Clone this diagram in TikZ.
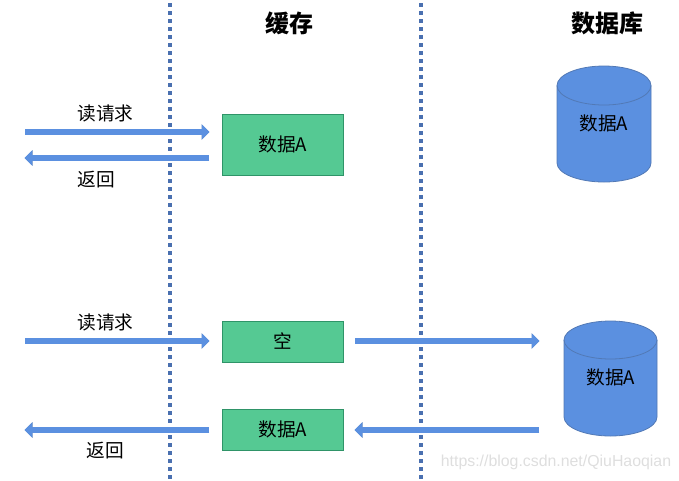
\documentclass[tikz,border=0pt]{standalone}
\usepackage{fontspec}
\setmainfont{Noto Sans CJK SC}
\newfontfamily\urlfont{Liberation Sans}
\usetikzlibrary{arrows.meta}
\definecolor{dotblue}{HTML}{4A70B0}
\definecolor{flowblue}{HTML}{5B90E0}
\definecolor{flowedge}{HTML}{4F7DBE}
\definecolor{cellgreen}{HTML}{55C993}
\definecolor{celledge}{HTML}{2F9468}
\definecolor{drumedge}{HTML}{5279B5}
\tikzset{
  x=0.75pt, y=-0.75pt,
  divider/.style={dotblue, line width=3pt, dash pattern=on 3pt off 3pt},
  flowedgeline/.style={flowedge, line width=5pt,
    -{Triangle[length=6pt,width=11.4pt,flowedge]}},
  flow/.style={flowblue, line width=4.2pt,
    -{Triangle[length=5.5pt,width=10.4pt,flowblue]}},
  cell/.style={draw=celledge, line width=0.7pt, fill=cellgreen, inner sep=0pt, anchor=north west},
  drum/.style={draw=drumedge, line width=0.6pt, fill=flowblue},
  label/.style={font=\fontsize{14pt}{16pt}\selectfont, inner sep=0pt},
  heading/.style={font=\fontsize{18pt}{22pt}\selectfont\bfseries, inner sep=0pt},
}
\begin{document}
\begin{tikzpicture}
\useasboundingbox (0,0) rectangle (679,480);
% column dividers
\coordinate (d1t) at (170,3);  \coordinate (d1b) at (170,479);
\coordinate (d2t) at (421,3);  \coordinate (d2b) at (421,479);
\draw[divider] (d1t) -- (d1b);
\draw[divider] (d2t) -- (d2b);
% column headings
\node[heading] (hcache) at (289,23) {缓存};
\node[heading] (hdb) at (607.5,23) {数据库};
% cache cells
\node[cell, minimum width=121*0.75pt, minimum height=61*0.75pt] (c1) at (222,114) {};
\node[label] (c1t) at (283,144.5) {数据A};
\node[cell, minimum width=121*0.75pt, minimum height=41*0.75pt] (c2) at (222,321) {};
\node[label] (c2t) at (283,341.5) {空};
\node[cell, minimum width=121*0.75pt, minimum height=41*0.75pt] (c3) at (222,409) {};
\node[label] (c3t) at (283,429.5) {数据A};
% database drums
\draw[drum] (557,85.5) -- (557,163) arc[start angle=180,end angle=360,x radius=47,y radius=-19] -- (651,85.5)
  arc[start angle=0,end angle=180,x radius=47,y radius=-19.5] -- cycle;
\draw[drumedge, line width=0.6pt] (557,85.5) arc[start angle=180,end angle=360,x radius=47,y radius=-19.5];
\node[label] (d1) at (604,123) {数据A};
\draw[drum] (564,340) -- (564,417) arc[start angle=180,end angle=360,x radius=46.5,y radius=-19] -- (657,340)
  arc[start angle=0,end angle=180,x radius=46.5,y radius=-19] -- cycle;
\draw[drumedge, line width=0.6pt] (564,340) arc[start angle=180,end angle=360,x radius=46.5,y radius=-19];
\node[label] (d2) at (611,377) {数据A};
% request and reply flows
\coordinate (a1s) at (25,132);  \coordinate (a1e) at (209.5,132);
\coordinate (a2s) at (209,158); \coordinate (a2e) at (24.5,158);
\coordinate (a3s) at (25,341);  \coordinate (a3e) at (209.5,341);
\coordinate (a4s) at (355,341); \coordinate (a4e) at (539.5,341);
\coordinate (a5s) at (539,430); \coordinate (a5e) at (354.5,430);
\coordinate (a6s) at (209,430); \coordinate (a6e) at (24.5,430);
\foreach \s/\e in {a1s/a1e,a2s/a2e,a3s/a3e,a4s/a4e,a5s/a5e,a6s/a6e}{
  \draw[flowedgeline] (\s) -- (\e);
  \draw[flow] (\s) -- (\e);
}
% flow captions
\node[label] (l1) at (105.5,113) {读请求};
\node[label] (l2) at (96,179.5) {返回};
\node[label] (l3) at (105.5,322) {读请求};
\node[label] (l4) at (105,451) {返回};
% source credit
\node[text=black!13, font=\urlfont\fontsize{11.9pt}{14pt}\selectfont, inner sep=0pt] (credit) at (556,462) {https://blog.csdn.net/QiuHaoqian};
\end{tikzpicture}
\end{document}
